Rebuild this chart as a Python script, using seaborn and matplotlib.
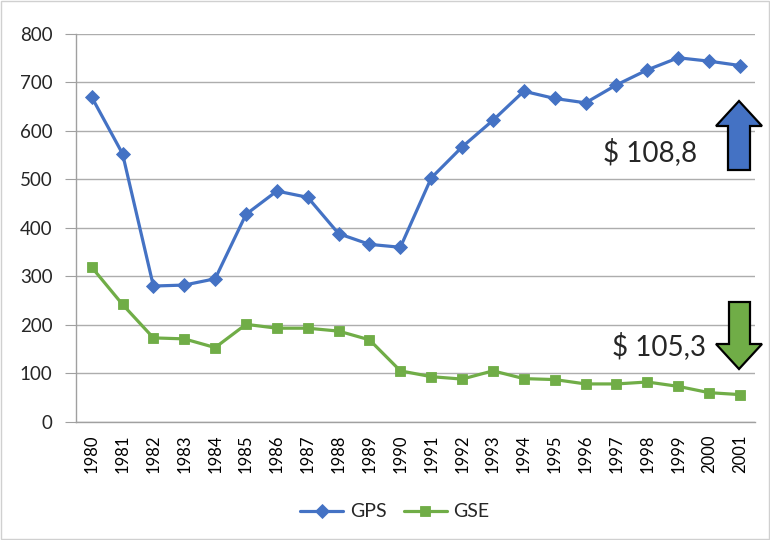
import pandas as pd
import numpy as np
import matplotlib
matplotlib.use("Agg")
import matplotlib.pyplot as plt
from matplotlib.patches import Polygon, Rectangle
import seaborn as sns

years = list(range(1980, 2002))
gps = [670, 553, 280, 282, 295, 428, 476, 463, 388, 366, 360,
       503, 567, 622, 682, 667, 658, 695, 726, 751, 744, 735]
gse = [319, 242, 173, 171, 153, 201, 193, 193, 187, 169, 105,
       93, 88, 105, 89, 87, 78, 78, 82, 73, 60, 56]
series_names = ["GPS", "GSE"]
annot_up = "$ 108,8"
annot_down = "$ 105,3"

df = pd.DataFrame({
    "year": years * 2,
    "value": gps + gse,
    "serie": [series_names[0]] * len(years) + [series_names[1]] * len(years),
})

sns.set_style("white")
plt.rcParams["font.family"] = ["Lato", "DejaVu Sans"]

palette = {"GPS": "#4472C4", "GSE": "#70AD47"}
fig = plt.figure(figsize=(7.7, 5.4), dpi=100)
ax = fig.add_axes([0.099, 0.219, 0.882, 0.718])

sns.lineplot(data=df, x="year", y="value", hue="serie", style="serie",
             markers={"GPS": "D", "GSE": "s"}, dashes=False, palette=palette,
             linewidth=2.3, markersize=7, markeredgewidth=0.6, ax=ax)
for line in ax.lines:
    line.set_markeredgecolor(line.get_color())

ax.set_xlim(1979.5, 2001.5)
ax.set_ylim(0, 800)
ax.set_yticks(range(0, 801, 100))
ax.set_xticks(years)
ax.set_xticklabels([str(y) for y in years], rotation=90)
ax.set_xticks(np.arange(1979.5, 2002, 1), minor=True)
ax.tick_params(axis="x", which="major", length=0, labelsize=12, pad=9, colors="#000000")
ax.tick_params(axis="x", which="minor", length=6, color="#A0A0A0", width=1)
ax.tick_params(axis="y", length=8, color="#A0A0A0", labelsize=13.5, pad=9, left=True)
ax.grid(axis="y", color="#ADADAD", linewidth=1)
ax.set_axisbelow(True)
for s in ["top", "right"]:
    ax.spines[s].set_visible(False)
for s in ["left", "bottom"]:
    ax.spines[s].set_color("#A0A0A0")
    ax.spines[s].set_linewidth(1)
ax.set_xlabel("")
ax.set_ylabel("")

handles, labels = ax.get_legend_handles_labels()
ax.legend(handles, labels, loc="center", bbox_to_anchor=(0.513, 0.052),
          bbox_transform=fig.transFigure, ncol=2, frameon=False, fontsize=14,
          handlelength=2.2, columnspacing=0.9, handletextpad=0.35)

# annotations
W, H = 770, 540
def fpts(pts):
    return [(x / W, 1 - y / H) for x, y in pts]

fig.text(697 / W, 1 - 152 / H, annot_up, ha="right", va="center", fontsize=20)
fig.text(706 / W, 1 - 346 / H, annot_down, ha="right", va="center", fontsize=20)

up = [(728, 170), (750, 170), (750, 126), (762, 126), (739, 101), (716, 126), (728, 126)]
down = [(729, 302), (750, 302), (750, 344), (762, 344), (739, 369), (716, 344), (729, 344)]
fig.patches.append(Polygon(fpts(up), closed=True, transform=fig.transFigure,
                           facecolor="#4472C4", edgecolor="black", linewidth=1.6))
fig.patches.append(Polygon(fpts(down), closed=True, transform=fig.transFigure,
                           facecolor="#70AD47", edgecolor="black", linewidth=1.6))

fig.patches.append(Rectangle((0.001, 0.001), 0.998, 0.998, transform=fig.transFigure,
                             fill=False, edgecolor="#D0D0D0", linewidth=1))

fig.savefig("out.png", dpi=100)
